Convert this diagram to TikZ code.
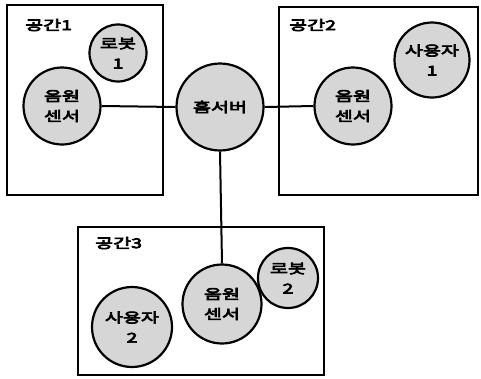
\documentclass[tikz,border=0pt]{standalone}
\usepackage{fontspec}
\newfontfamily\kr{Noto Sans CJK KR}[FakeStretch=1.45,FakeBold=5]
\definecolor{fillg}{HTML}{D6D6D6}
\begin{document}
\begin{tikzpicture}[x=1pt,y=-1pt,
  every node/.style={font=\kr\fontsize{13.5}{20}\selectfont, inner sep=0pt},
  ent/.style={circle, draw=black, line width=2.2pt, fill=fillg, align=center},
  room/.style={draw=black, line width=2pt},
  link/.style={draw=black, line width=2pt}]
\useasboundingbox (0,0) rectangle (481,378);
% rooms
\draw[room] (7,5) rectangle (163,195);
\draw[room] (279,7) rectangle (478,195);
\draw[room] (78,227) rectangle (324,375);
\node[anchor=west] (l1) at (25,25) {공간1};
\node[anchor=west] (l2) at (289,25) {공간2};
\node[anchor=west] (l3) at (95,243) {공간3};
% entities
\node[ent, minimum size=57pt] (r1) at (118,53) {로봇\\1};
\node[ent, minimum size=77pt] (s1) at (62,106) {음원\\센서};
\node[ent, minimum size=87pt] (hs) at (220,107) {홈서버};
\node[ent, minimum size=77pt] (s2) at (353,106) {음원\\센서};
\node[ent, minimum size=75pt] (u1) at (432,60) {사용자\\1};
\node[ent, minimum size=79pt] (s3) at (222,304) {음원\\센서};
\node[ent, minimum size=60pt] (r2) at (288,278) {로봇\\2};
\node[ent, minimum size=80pt] (u2) at (132,327) {사용자\\2};
% links
\draw[link] (s1.east) -- (hs.west);
\draw[link] (hs.east) -- (s2.west);
\draw[link] (hs.south) -- (s3.north);
\end{tikzpicture}
\end{document}
